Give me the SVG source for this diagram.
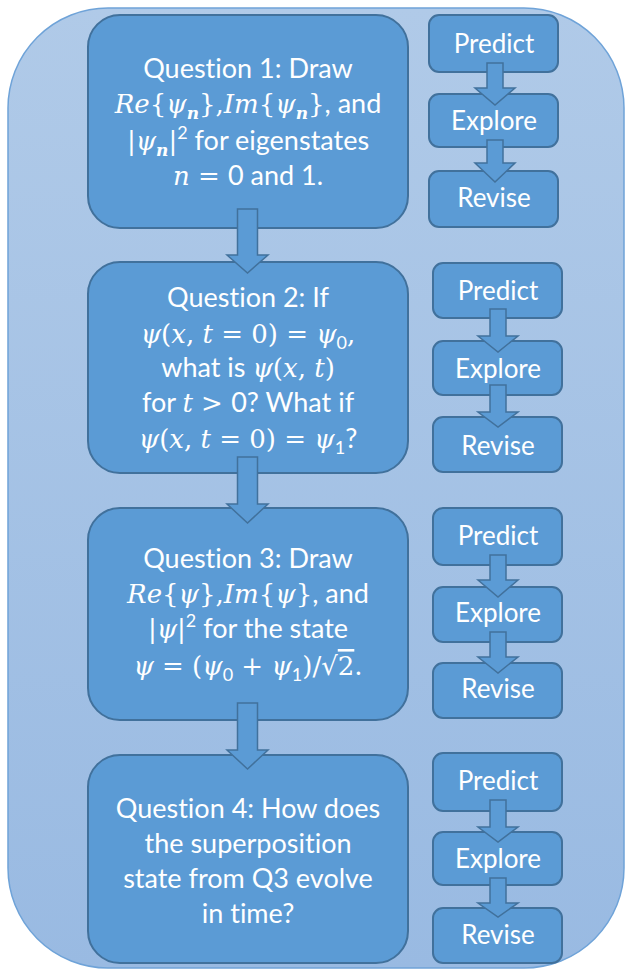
<svg xmlns="http://www.w3.org/2000/svg" width="626" height="971" viewBox="0 0 626 971">
<defs>
<linearGradient id="bg" x1="0" y1="0" x2="0" y2="1">
<stop offset="0" stop-color="#b0cae8"/>
<stop offset="1" stop-color="#99bae2"/>
</linearGradient>
</defs>
<style>
.box{fill:#5b9bd5;stroke:#41719c;stroke-width:2}
.arr{fill:#5b9bd5;stroke:#41719c;stroke-width:1.5;stroke-linejoin:miter}
text{fill:#fff;font-family:Lato,"Open Sans","Liberation Sans",sans-serif;text-anchor:middle;font-variant-ligatures:none}
.q{font-size:27px}
.s{font-size:26px}
.mi{font-family:"DejaVu Serif","Liberation Serif",serif;font-style:italic;font-size:26px}
.mu{font-family:"DejaVu Serif","Liberation Serif",serif;font-size:26px}
.sub{font-family:"DejaVu Serif","Liberation Serif",serif;font-style:italic;font-weight:bold;font-size:17px}
.num{font-size:18px}
</style>
<rect x="8" y="8" width="616" height="960" rx="100" ry="100" fill="url(#bg)" stroke="#6fa3d8" stroke-width="1.5"/>

<g id="q1">
<rect class="box" x="88" y="15" width="320" height="213" rx="32"/>
<text class="q" x="248" y="78">Question 1: Draw</text>
<text class="q" x="248" y="113"><tspan class="mi">Re</tspan><tspan class="mu">{</tspan><tspan class="mi">ψ</tspan><tspan class="sub" dy="6">n</tspan><tspan class="mu" dy="-6">},</tspan><tspan class="mi">Im</tspan><tspan class="mu">{</tspan><tspan class="mi">ψ</tspan><tspan class="sub" dy="6">n</tspan><tspan class="mu" dy="-6">}</tspan>, and</text>
<text class="q" x="248" y="150"><tspan class="mu">|</tspan><tspan class="mi">ψ</tspan><tspan class="sub" dy="6">n</tspan><tspan class="mu" dy="-6">|</tspan><tspan class="num" dy="-11">2</tspan><tspan dy="11"> for eigenstates</tspan></text>
<text class="q" x="248" y="185"><tspan class="mi">n</tspan><tspan class="mu"> = </tspan>0 and 1.</text>
</g>

<g id="q2">
<rect class="box" x="88" y="262" width="320" height="211" rx="32"/>
<text class="q" x="248" y="307">Question 2: If</text>
<text class="q" x="248" y="343"><tspan class="mi">ψ</tspan><tspan class="mu">(</tspan><tspan class="mi">x</tspan><tspan class="mu">, </tspan><tspan class="mi">t</tspan><tspan class="mu"> = 0) = </tspan><tspan class="mi">ψ</tspan><tspan class="num" dy="6">0</tspan><tspan class="mu" dy="-6">,</tspan></text>
<text class="q" x="248" y="377">what is <tspan class="mi">ψ</tspan><tspan class="mu">(</tspan><tspan class="mi">x</tspan><tspan class="mu">, </tspan><tspan class="mi">t</tspan><tspan class="mu">)</tspan></text>
<text class="q" x="248" y="412">for <tspan class="mi">t</tspan><tspan class="mu"> &gt; </tspan>0? What if</text>
<text class="q" x="248" y="448"><tspan class="mi">ψ</tspan><tspan class="mu">(</tspan><tspan class="mi">x</tspan><tspan class="mu">, </tspan><tspan class="mi">t</tspan><tspan class="mu"> = 0) = </tspan><tspan class="mi">ψ</tspan><tspan class="num" dy="6">1</tspan><tspan dy="-6">?</tspan></text>
</g>

<g id="q3">
<rect class="box" x="88" y="508" width="320" height="212" rx="32"/>
<text class="q" x="248" y="568">Question 3: Draw</text>
<text class="q" x="248" y="603"><tspan class="mi">Re</tspan><tspan class="mu">{</tspan><tspan class="mi">ψ</tspan><tspan class="mu">},</tspan><tspan class="mi">Im</tspan><tspan class="mu">{</tspan><tspan class="mi">ψ</tspan><tspan class="mu">}</tspan>, and</text>
<text class="q" x="248" y="638"><tspan class="mu">|</tspan><tspan class="mi">ψ</tspan><tspan class="mu">|</tspan><tspan class="num" dy="-11">2</tspan><tspan dy="11"> for the state</tspan></text>
<text class="q" x="248" y="675"><tspan class="mi">ψ</tspan><tspan class="mu"> = (</tspan><tspan class="mi">ψ</tspan><tspan class="num" dy="6">0</tspan><tspan class="mu" dy="-6"> + </tspan><tspan class="mi">ψ</tspan><tspan class="num" dy="6">1</tspan><tspan class="mu" dy="-6">)/√</tspan><tspan class="mu" style="text-decoration:overline">2</tspan><tspan class="mu">.</tspan></text>
</g>

<g id="q4">
<rect class="box" x="88" y="755" width="320" height="208" rx="32"/>
<text class="q" x="248" y="818">Question 4: How does</text>
<text class="q" x="248" y="853">the superposition</text>
<text class="q" x="248" y="888">state from Q3 evolve</text>
<text class="q" x="248" y="923">in time?</text>
</g>

<g id="predict1"><rect class="box" x="429" y="15" width="129" height="57" rx="10"/><text class="s" x="494" y="53">Predict</text></g>
<g id="explore1"><rect class="box" x="429" y="94" width="129" height="53" rx="10"/><text class="s" x="494" y="130">Explore</text></g>
<g id="revise1"><rect class="box" x="429" y="171" width="129" height="56" rx="10"/><text class="s" x="494" y="207">Revise</text></g>

<g id="predict2"><rect class="box" x="433" y="263" width="129" height="55" rx="10"/><text class="s" x="498" y="300">Predict</text></g>
<g id="explore2"><rect class="box" x="433" y="341" width="129" height="54" rx="10"/><text class="s" x="498" y="378">Explore</text></g>
<g id="revise2"><rect class="box" x="433" y="417" width="129" height="55" rx="10"/><text class="s" x="498" y="455">Revise</text></g>

<g id="predict3"><rect class="box" x="433" y="508" width="129" height="57" rx="10"/><text class="s" x="498" y="545">Predict</text></g>
<g id="explore3"><rect class="box" x="433" y="587" width="129" height="55" rx="10"/><text class="s" x="498" y="622">Explore</text></g>
<g id="revise3"><rect class="box" x="433" y="663" width="129" height="55" rx="10"/><text class="s" x="498" y="698">Revise</text></g>

<g id="predict4"><rect class="box" x="433" y="753" width="129" height="58" rx="10"/><text class="s" x="498" y="790">Predict</text></g>
<g id="explore4"><rect class="box" x="433" y="832" width="129" height="53" rx="10"/><text class="s" x="498" y="868">Explore</text></g>
<g id="revise4"><rect class="box" x="433" y="908" width="129" height="55" rx="10"/><text class="s" x="498" y="944">Revise</text></g>

<g id="connectors">
<path class="arr" d="M237.5,209 H257.5 V255 H268 L247.5,273 L227,255 H237.5 Z"/>
<path class="arr" d="M237.5,457 H257.5 V504 H268 L247.5,523 L227,504 H237.5 Z"/>
<path class="arr" d="M237.5,703 H257.5 V750 H268 L247.5,769 L227,750 H237.5 Z"/>

<path class="arr" d="M487,63 H503 V88 H515 L495,105 L475,88 H487 Z"/>
<path class="arr" d="M487,140 H503 V163 H515 L495,182 L475,163 H487 Z"/>

<path class="arr" d="M490,309 H506 V336 H518 L498,352 L478,336 H490 Z"/>
<path class="arr" d="M490,385 H506 V412 H518 L498,427 L478,412 H490 Z"/>

<path class="arr" d="M490,555 H506 V580 H518 L498,597 L478,580 H490 Z"/>
<path class="arr" d="M490,632 H506 V657 H518 L498,673 L478,657 H490 Z"/>

<path class="arr" d="M490,800 H506 V827 H518 L498,842 L478,827 H490 Z"/>
<path class="arr" d="M490,878 H506 V903 H518 L498,917 L478,903 H490 Z"/>
</g>
</svg>
